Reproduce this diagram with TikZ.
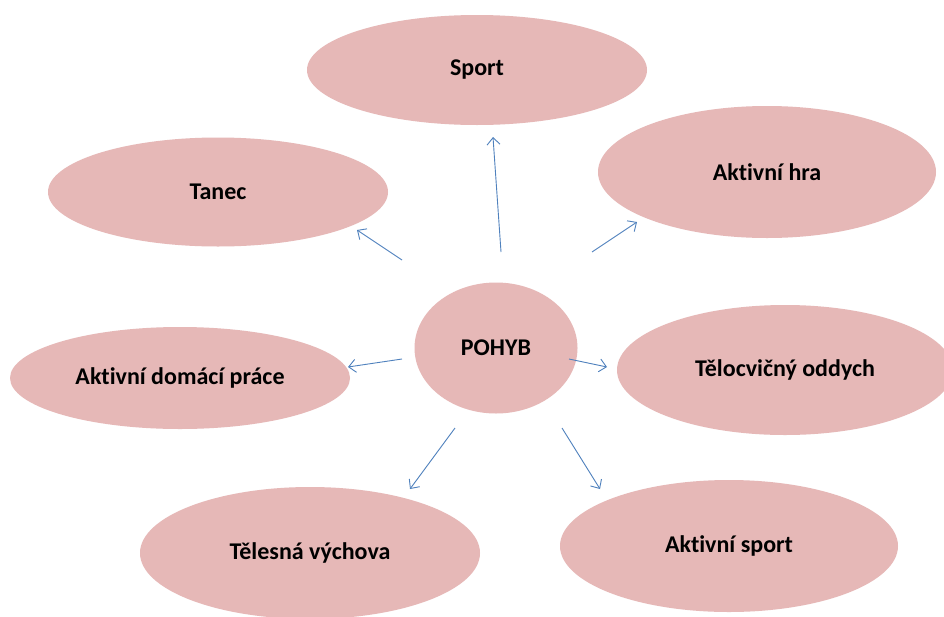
\documentclass[tikz,border=0pt]{standalone}
\usepackage{fontspec}
\setmainfont{Carlito}[Ligatures=NoCommon]
\usetikzlibrary{shapes.geometric,arrows.meta}
\definecolor{bubble}{HTML}{E6B8B7}
\definecolor{arrowblue}{HTML}{4F81BD}
\tikzset{
  bubble/.style={ellipse, fill=bubble, draw=none, inner sep=0pt,
    font=\fontsize{24}{28}\selectfont\bfseries, text=black},
  link/.style={draw=arrowblue, line width=0.9pt,
    -{Straight Barb[length=7pt,width=13pt,line width=0.9pt]}}
}
\begin{document}
\begin{tikzpicture}[x=1pt,y=-1pt]
\useasboundingbox (0,0) rectangle (944,616);
\fill[white] (0,0) rectangle (944,616);
% ellipses
\node[bubble, minimum width=340pt, minimum height=110pt] (sport) at (477,70) {Sport};
\node[bubble, minimum width=340pt, minimum height=109pt] (tanec) at (218,192) {Tanec};
\node[bubble, minimum width=338pt, minimum height=132pt] (hra) at (767,172) {Aktivní hra};
\node[bubble, minimum width=163pt, minimum height=131pt] (pohyb) at (496,348) {POHYB};
\node[bubble, minimum width=340pt, minimum height=102pt] (domaci) at (180,378) {Aktivní domácí práce};
\node[bubble, minimum width=336pt, minimum height=130pt] (telocvicny) at (785,370) {Tělocvičný oddych};
\node[bubble, minimum width=340pt, minimum height=132pt] (telesna) at (310,553) {Tělesná výchova};
\node[bubble, minimum width=338pt, minimum height=132pt] (asport) at (729,546) {Aktivní sport};
% arrow end points
\coordinate (a1) at (501,252); \coordinate (b1) at (493,137);
\coordinate (a2) at (592,252); \coordinate (b2) at (637,222);
\coordinate (a3) at (402,260); \coordinate (b3) at (357,230);
\coordinate (a4) at (402,359); \coordinate (b4) at (348,367);
\coordinate (a5) at (569,359); \coordinate (b5) at (607,367);
\coordinate (a6) at (455,428); \coordinate (b6) at (410,489);
\coordinate (a7) at (562,428); \coordinate (b7) at (600,489);
\draw[link] (a1) -- (b1);
\draw[link] (a2) -- (b2);
\draw[link] (a3) -- (b3);
\draw[link] (a4) -- (b4);
\draw[link] (a5) -- (b5);
\draw[link] (a6) -- (b6);
\draw[link] (a7) -- (b7);
\end{tikzpicture}
\end{document}
